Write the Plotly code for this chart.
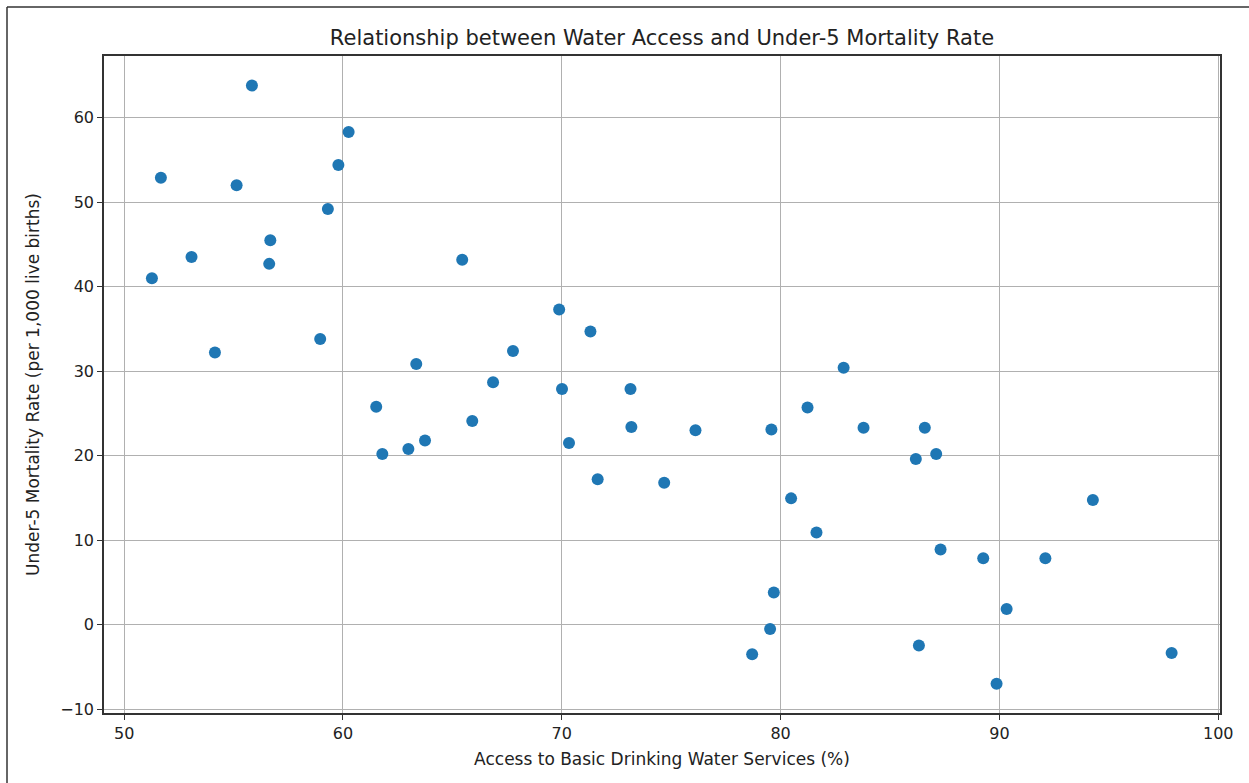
import plotly.graph_objects as go

water_access = [51.27, 51.68, 53.08, 54.15, 55.14, 55.84, 56.68, 56.63, 58.96, 59.31,
                59.79, 60.26, 61.52, 61.80, 62.99, 63.35, 63.75, 65.45, 65.91, 66.86,
                67.77, 69.88, 70.01, 70.33, 71.31, 71.64, 73.14, 73.18, 74.68, 76.11,
                78.70, 79.52, 79.58, 79.69, 80.48, 81.23, 81.64, 82.88, 83.79, 86.18,
                86.32, 86.59, 87.11, 87.31, 89.26, 89.87, 90.33, 92.10, 94.27, 97.87]
mortality = [41.0, 52.9, 43.5, 32.2, 52.0, 63.8, 45.5, 42.7, 33.8, 49.2,
             54.4, 58.3, 25.8, 20.2, 20.8, 30.85, 21.8, 43.2, 24.1, 28.7,
             32.4, 37.3, 27.9, 21.5, 34.7, 17.2, 27.9, 23.4, 16.8, 23.0,
             -3.5, -0.5, 23.1, 3.8, 14.95, 25.7, 10.9, 30.4, 23.3, 19.6,
             -2.45, 23.3, 20.2, 8.9, 7.85, -7.0, 1.86, 7.85, 14.75, -3.35]

x_ticks = [50, 60, 70, 80, 90, 100]
y_ticks = [-10, 0, 10, 20, 30, 40, 50, 60]

W, H = 1249, 783
L, R, T, B = 104, 29, 56, 70

fig = go.Figure()
fig.add_trace(go.Scatter(
    x=water_access, y=mortality, mode="markers",
    marker=dict(color="#1f77b4", size=12, line=dict(width=0)),
    showlegend=False,
))

font = "DejaVu Sans, sans-serif"
axis_common = dict(
    showgrid=True, gridcolor="#b0b0b0", gridwidth=1,
    showline=True, linecolor="#333333", linewidth=1.5, mirror=True,
    ticks="outside", ticklen=5, tickwidth=1.2, tickcolor="#333333",
    zeroline=False, tickfont=dict(family=font, size=16, color="#222222"),
)
fig.update_xaxes(range=[49.08, 100.08], tickvals=x_ticks,
                 title=dict(text="Access to Basic Drinking Water Services (%)",
                            font=dict(family=font, size=17, color="#222222"), standoff=11),
                 **axis_common)
fig.update_yaxes(range=[-10.45, 67.3], tickvals=y_ticks,
                 ticktext=[("\u2212" + str(-v)) if v < 0 else str(v) for v in y_ticks],
                 title=dict(text="Under-5 Mortality Rate (per 1,000 live births)",
                            font=dict(family=font, size=17, color="#222222"), standoff=16),
                 **axis_common)

pw, ph = W - L - R, H - T - B
fig.update_layout(
    width=W, height=H,
    margin=dict(l=L, r=R, t=T, b=B),
    paper_bgcolor="white", plot_bgcolor="white",
    title=dict(text="Relationship between Water Access and Under-5 Mortality Rate",
               font=dict(family=font, size=21, color="#222222"),
               x=(L + pw / 2) / W, xanchor="center",
               y=1 - 38 / H, yanchor="middle", yref="container"),
    shapes=[
        dict(type="line", xref="paper", yref="paper",
             x0=(7 - L) / pw, x1=(1260 - L) / pw,
             y0=(H - B - 7) / ph, y1=(H - B - 7) / ph,
             line=dict(color="#333333", width=1.5)),
        dict(type="line", xref="paper", yref="paper",
             x0=(7 - L) / pw, x1=(7 - L) / pw,
             y0=(H - B - 7) / ph, y1=(H - B - 800) / ph,
             line=dict(color="#333333", width=1.5)),
    ],
)

fig.write_html("out.html")
